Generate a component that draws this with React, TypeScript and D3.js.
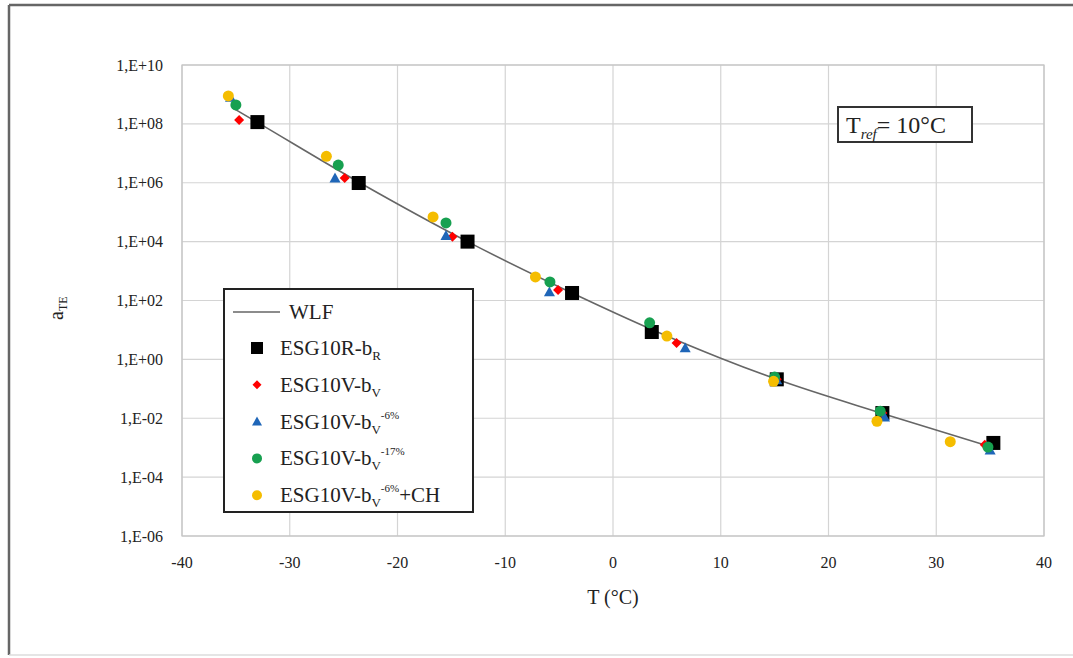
import React from "react";
import * as d3 from "d3";

// ---------- data ----------
const xTicks = [-40, -30, -20, -10, 0, 10, 20, 30, 40];
const yTicks = [1e-6, 1e-4, 1e-2, 1e0, 1e2, 1e4, 1e6, 1e8, 1e10];
const yTickLabels = ["1,E-06", "1,E-04", "1,E-02", "1,E+00", "1,E+02", "1,E+04", "1,E+06", "1,E+08", "1,E+10"];

const wlfT = [-35.3, -33, -23.5, -13.5, -3.8, 3.7, 10, 15.2, 25, 35.5];
const wlfA = [3.5e8, 1.12e8, 1.0e6, 1.0e4, 1.8e2, 1.0e1, 1.1, 0.21, 0.0145, 9.5e-4];

const esgRT = [-33.0, -23.6, -13.5, -3.8, 3.6, 15.2, 25.0, 35.3];
const esgRA = [1.15e8, 9.8e5, 1.0e4, 1.8e2, 8.5, 0.21, 0.015, 1.45e-3];

const esgVT = [-34.7, -24.9, -14.9, -5.1, 5.9, 15.2, 25.0, 34.5];
const esgVA = [1.35e8, 1.45e6, 1.45e4, 229, 3.6, 0.21, 0.015, 1.26e-3];

const esgV6T = [-35.5, -25.8, -15.5, -5.9, 6.7, 15.2, 25.2, 35.0];
const esgV6A = [7.9e8, 1.45e6, 1.6e4, 195, 2.45, 0.2, 0.011, 8.3e-4];

const esgV17T = [-35.0, -25.5, -15.5, -5.85, 3.4, 15.0, 24.8, 34.8];
const esgV17A = [4.4e8, 4.0e6, 4.3e4, 427, 17.4, 0.25, 0.0174, 1.05e-3];

const esgCHT = [-35.7, -26.6, -16.7, -7.2, 5.0, 14.9, 24.5, 31.3];
const esgCHA = [8.9e8, 7.9e6, 6.9e4, 631, 6.2, 0.18, 7.9e-3, 1.6e-3];

const FONT = "'Liberation Serif', 'Times New Roman', serif";

type Shape = "square" | "diamond" | "triangle" | "circle";

const series: { T: number[]; A: number[]; color: string; shape: Shape; size: number }[] = [
  { T: esgRT, A: esgRA, color: "#000000", shape: "square", size: 14 },
  { T: esgVT, A: esgVA, color: "#ff0000", shape: "diamond", size: 10 },
  { T: esgV6T, A: esgV6A, color: "#1f66b8", shape: "triangle", size: 11 },
  { T: esgV17T, A: esgV17A, color: "#17a050", shape: "circle", size: 11 },
  { T: esgCHT, A: esgCHA, color: "#f5bd00", shape: "circle", size: 11 },
];

function Marker({ x, y, color, shape, size }: { x: number; y: number; color: string; shape: Shape; size: number }) {
  const h = size / 2;
  if (shape === "square") return <rect x={x - h} y={y - h} width={size} height={size} fill={color} />;
  if (shape === "diamond")
    return <path d={`M${x},${y - h}L${x + h},${y}L${x},${y + h}L${x - h},${y}Z`} fill={color} />;
  if (shape === "triangle")
    return <path d={`M${x},${y - h}L${x + h},${y + h * 0.8}L${x - h},${y + h * 0.8}Z`} fill={color} />;
  return <circle cx={x} cy={y} r={h} fill={color} />;
}

export default function App() {
  const W = 1073, H = 658;
  const x = d3.scaleLinear().domain([-40, 40]).range([182, 1044]);
  const y = d3.scaleLog().domain([1e-6, 1e10]).range([536, 65]);

  const line = d3
    .line<number>()
    .x((_, i) => x(wlfT[i]))
    .y((d) => y(d))
    .curve(d3.curveMonotoneX);

  const legendItems = [
    { label: "R", sup: "", extra: "", idx: 0, base: "ESG10R-b" },
    { label: "V", sup: "", extra: "", idx: 1, base: "ESG10V-b" },
    { label: "V", sup: "-6%", extra: "", idx: 2, base: "ESG10V-b" },
    { label: "V", sup: "-17%", extra: "", idx: 3, base: "ESG10V-b" },
    { label: "V", sup: "-6%", extra: "+CH", idx: 4, base: "ESG10V-b" },
  ];

  return (
    <svg width={W} height={H} style={{ position: "absolute", left: 0, top: 0, background: "#fff" }} fontFamily={FONT}>
      {/* outer frame */}
      <line x1={9} y1={5} x2={W} y2={5} stroke="#666" strokeWidth={2.5} />
      <line x1={9} y1={5} x2={9} y2={655} stroke="#666" strokeWidth={2.5} />
      <line x1={9} y1={655} x2={W} y2={655} stroke="#ddd" strokeWidth={1.5} />

      {/* gridlines */}
      {xTicks.map((t) => (
        <line key={"gx" + t} x1={x(t)} x2={x(t)} y1={y(1e10)} y2={y(1e-6)} stroke="#d4d4d4" strokeWidth={1.2} />
      ))}
      {yTicks.map((t) => (
        <line key={"gy" + t} x1={x(-40)} x2={x(40)} y1={y(t)} y2={y(t)} stroke="#d4d4d4" strokeWidth={1.2} />
      ))}
      <rect x={x(-40)} y={y(1e10)} width={x(40) - x(-40)} height={y(1e-6) - y(1e10)} fill="none" stroke="#c4c4c4" strokeWidth={1.2} />

      {/* tick labels */}
      {xTicks.map((t) => (
        <text key={"tx" + t} x={x(t)} y={568} textAnchor="middle" fontSize={16} fill="#222">
          {t}
        </text>
      ))}
      {yTicks.map((t, i) => (
        <text key={"ty" + t} x={163} y={y(t) + 5.5} textAnchor="end" fontSize={16} fill="#222">
          {yTickLabels[i]}
        </text>
      ))}

      {/* axis titles */}
      <text x={613} y={604} textAnchor="middle" fontSize={20} fill="#222">
        T (°C)
      </text>
      <text transform="translate(63,320) rotate(-90)" fontSize={20} fill="#222">
        a<tspan fontSize={12} dy={4}>TE</tspan>
      </text>

      {/* WLF line */}
      <path d={line(wlfA) || ""} fill="none" stroke="#666" strokeWidth={1.6} />

      {/* markers */}
      {series.map((s, si) =>
        s.T.map((t, i) => (
          <Marker key={si + "-" + i} x={x(t)} y={y(s.A[i])} color={s.color} shape={s.shape} size={s.size} />
        ))
      )}

      {/* Tref box */}
      <rect x={838} y={107} width={134} height={35} fill="#fff" stroke="#333" strokeWidth={2} />
      <text x={846} y={133} fontSize={24} fill="#222">
        T<tspan fontSize={15} dy={6} fontStyle="italic">ref</tspan>
        <tspan dy={-6}>= 10°C</tspan>
      </text>

      {/* legend */}
      <rect x={224} y={289} width={249} height={223} fill="#fff" stroke="#222" strokeWidth={2} />
      <line x1={233} x2={280} y1={312} y2={312} stroke="#666" strokeWidth={1.6} />
      <text x={289} y={319} fontSize={21} fill="#222">
        WLF
      </text>
      {legendItems.map((it, k) => {
        const cy = 348 + k * 36.8;
        const s = series[it.idx];
        return (
          <g key={"lg" + k}>
            <Marker x={257} y={cy} color={s.color} shape={s.shape} size={s.shape === "square" ? 12 : s.size - 1} />
            <text x={280} y={cy + 7} fontSize={21} fill="#222">
              {it.base}
              <tspan fontSize={13} dy={5}>{it.label}</tspan>
              {it.sup ? <tspan fontSize={11} dy={-15}>{it.sup}</tspan> : null}
              {it.extra ? <tspan fontSize={21} dy={10}>{it.extra}</tspan> : null}
            </text>
          </g>
        );
      })}
    </svg>
  );
}
